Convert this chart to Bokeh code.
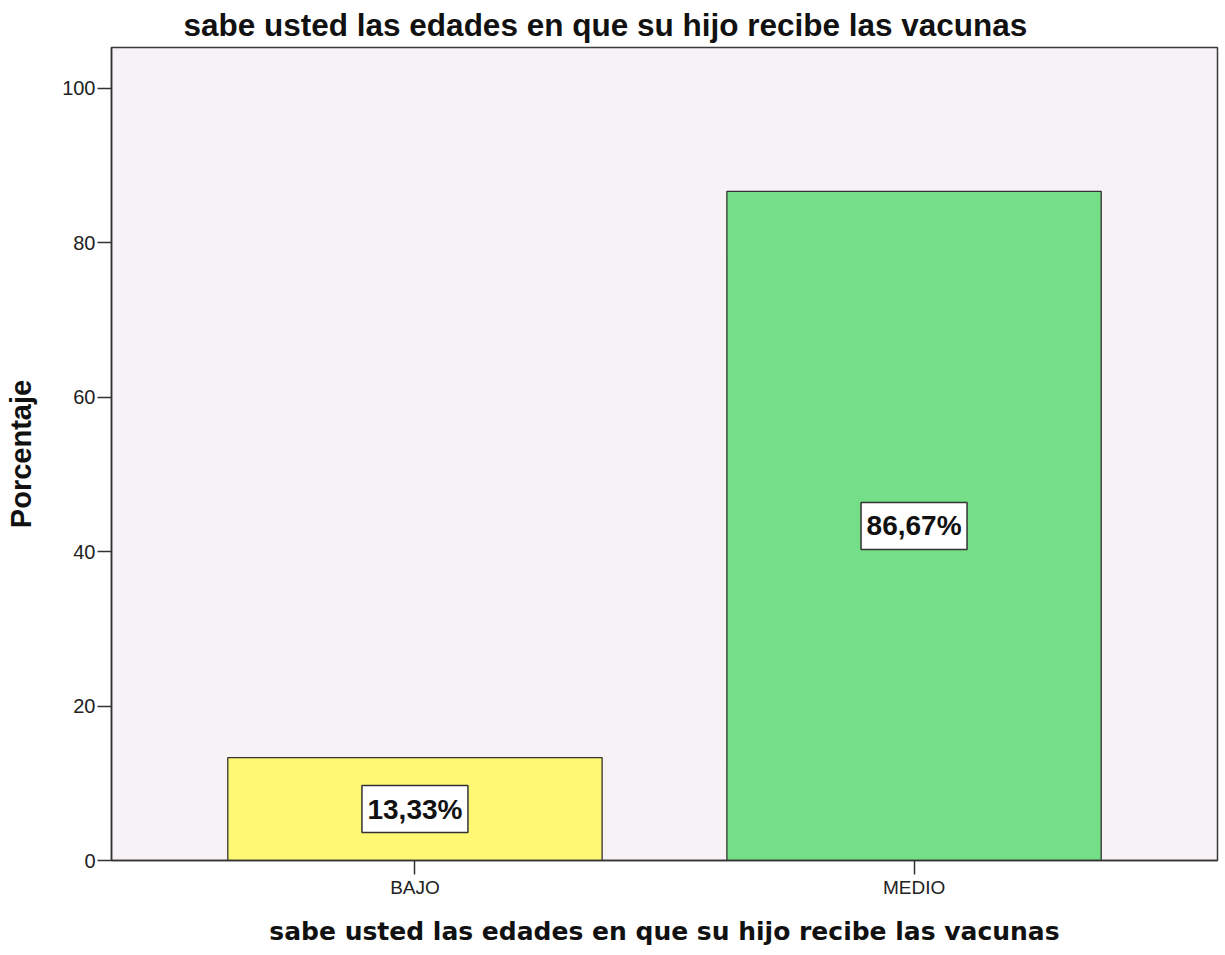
from bokeh.plotting import figure
from bokeh.models import FactorRange, Range1d, FixedTicker, ColumnDataSource
from bokeh.core.properties import value
from bokeh.embed import file_html
from bokeh.resources import INLINE

categories = ["BAJO", "MEDIO"]
percentages = [13.33, 86.67]
bar_labels = ["13,33%", "86,67%"]
bar_colors = ["#FFF875", "#74DF86"]
y_ticks = [0, 20, 40, 60, 80, 100]

title_text = "sabe usted las edades en que su hijo recibe las vacunas"
x_title = "sabe usted las edades en que su hijo recibe las vacunas"
y_title = "Porcentaje"

src = ColumnDataSource(dict(
    cat=categories,
    pct=percentages,
    half=[v / 2 for v in percentages],
    lab=bar_labels,
    col=bar_colors,
))

p = figure(
    x_range=FactorRange(*categories, range_padding=0.108, range_padding_units="absolute"),
    y_range=Range1d(0, 105.3),
    width=1220, height=948,
    output_backend="svg", toolbar_location=None,
    min_border_left=111, min_border_right=3, min_border_top=46, min_border_bottom=88,
)

p.title.text = title_text
p.title.text_font = "Liberation Sans"
p.title.text_font_style = "bold"
p.title.text_font_size = "31.5px"
p.title.align = "left"
p.title.offset = 72
p.title.standoff = 9
p.title.text_color = "#111111"

p.background_fill_color = "#F6F2F6"
p.border_fill_color = "white"
p.outline_line_color = "#3a3a3a"
p.outline_line_width = 1.5
p.xgrid.visible = False
p.ygrid.visible = False

p.vbar(x="cat", top="pct", width=0.75, source=src, fill_color="col",
       line_color="#333333", line_width=1.3)

p.rect(x="cat", y="half", width=106, height=47, width_units="screen",
       height_units="screen", source=src, fill_color="white",
       line_color="#333333", line_width=1.5)
p.text(x="cat", y="half", text="lab", source=src, text_align="center",
       text_baseline="middle", text_font=value("Liberation Sans"),
       text_font_style="bold", text_font_size="28px", text_color="#111111")

# y axis
p.yaxis.ticker = FixedTicker(ticks=y_ticks)
p.yaxis.minor_tick_line_color = None
p.yaxis.major_tick_out = 14
p.yaxis.major_tick_in = 0
p.yaxis.major_tick_line_width = 1.5
p.yaxis.major_tick_line_color = "#333333"
p.yaxis.axis_line_color = "#333333"
p.yaxis.axis_line_width = 1.5
p.yaxis.major_label_text_font = "Liberation Sans"
p.yaxis.major_label_text_font_size = "20px"
p.yaxis.major_label_text_color = "#222222"
p.yaxis.major_label_standoff = 2
p.yaxis.axis_label = y_title
p.yaxis.axis_label_text_font = "Liberation Sans"
p.yaxis.axis_label_text_font_style = "bold"
p.yaxis.axis_label_text_font_size = "29px"
p.yaxis.axis_label_text_color = "#111111"
p.yaxis.axis_label_standoff = 22

# x axis
p.xaxis.major_tick_out = 14
p.xaxis.major_tick_in = 0
p.xaxis.major_tick_line_width = 1.5
p.xaxis.major_tick_line_color = "#333333"
p.xaxis.axis_line_color = "#333333"
p.xaxis.axis_line_width = 1.5
p.xaxis.major_label_text_font = "Liberation Sans"
p.xaxis.major_label_text_font_size = "19px"
p.xaxis.major_label_text_color = "#222222"
p.xaxis.major_label_standoff = 2
p.xaxis.axis_label = x_title
p.xaxis.axis_label_text_font = "DejaVu Sans"
p.xaxis.axis_label_text_font_style = "bold"
p.xaxis.axis_label_text_font_size = "25px"
p.xaxis.axis_label_text_color = "#111111"
p.xaxis.axis_label_standoff = 16

open("out.html", "w").write(file_html(p, INLINE))
